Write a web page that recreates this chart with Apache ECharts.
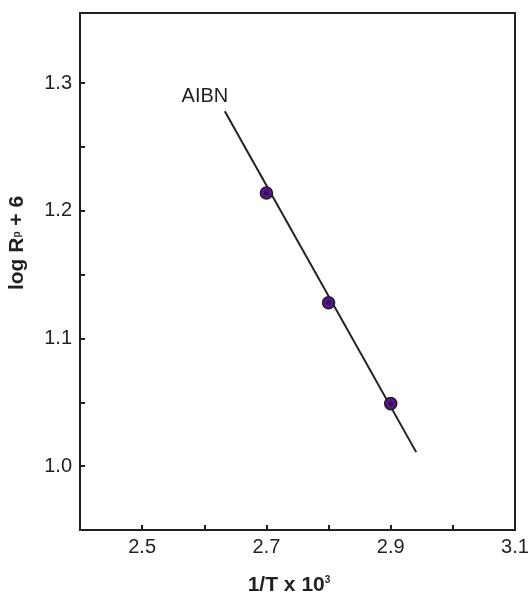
<!DOCTYPE html>
<html>
<head>
<meta charset="utf-8">
<script src="https://cdn.jsdelivr.net/npm/echarts@6/dist/echarts.min.js"></script>
<style>
  html, body { margin: 0; padding: 0; background: #ffffff; }
  #chart { width: 532px; height: 597px; }
</style>
</head>
<body>
<div id="chart"></div>
<script>
// ---- data ----
const xValues = [2.70, 2.80, 2.90];          // 1/T x 10^3
const yValues = [1.214, 1.128, 1.049];       // log Rp + 6
const fitX = [2.633, 2.941];                 // fitted line ends
const fitY = [1.278, 1.011];
const xTickLabels = ['2.5', '2.7', '2.9', '3.1'];
const yTickLabels = ['1.0', '1.1', '1.2', '1.3'];
const xTickValues = [2.4, 2.5, 2.6, 2.7, 2.8, 2.9, 3.0, 3.1];
const yTickValues = [0.95, 1.0, 1.05, 1.1, 1.15, 1.2, 1.25, 1.3];
const seriesLabel = 'AIBN';
const labelAt = [2.601, 1.2896];

const INK = '#231f20';
const FONT = '"Liberation Sans", Arial, Helvetica, sans-serif';

const chart = echarts.init(document.getElementById('chart'), null, { renderer: 'canvas' });
const option = {
  animation: false,
  backgroundColor: '#ffffff',
  grid: {
    left: 80, right: 17, top: 13, bottom: 67,
    show: true, borderColor: INK, borderWidth: 2, backgroundColor: 'transparent'
  },
  xAxis: {
    type: 'value', min: 2.4, max: 3.1, interval: 0.1,
    splitLine: { show: false },
    axisLine: { show: true, lineStyle: { color: INK, width: 2 } },
    axisTick: { show: true, inside: true, length: 5, customValues: xTickValues, lineStyle: { color: INK, width: 2 } },
    axisLabel: { customValues: xTickLabels.map(Number), formatter: v => v.toFixed(1),
      color: INK, fontSize: 20, fontFamily: FONT, margin: 7, hideOverlap: false }
  },
  yAxis: {
    type: 'value', min: 0.95, max: 1.355, interval: 0.05,
    splitLine: { show: false },
    axisLine: { show: true, lineStyle: { color: INK, width: 2 } },
    axisTick: { show: true, inside: true, length: 5, customValues: yTickValues, lineStyle: { color: INK, width: 2 } },
    axisLabel: { customValues: yTickLabels.map(Number), formatter: v => v.toFixed(1),
      color: INK, fontSize: 20, fontFamily: FONT, margin: 8 }
  },
  series: [
    {
      type: 'line', name: 'fit',
      data: fitX.map((x, i) => [x, fitY[i]]),
      showSymbol: false, symbol: 'none',
      lineStyle: { color: INK, width: 2 }, z: 2, silent: true
    },
    {
      type: 'scatter', name: seriesLabel,
      data: xValues.map((x, i) => [x, yValues[i]]),
      symbol: 'circle', symbolSize: 12,
      itemStyle: { color: '#5b119e', borderColor: INK, borderWidth: 1.6, opacity: 1 },
      z: 3, silent: true
    },
    {
      type: 'scatter', name: 'centre',
      data: xValues.map((x, i) => [x, yValues[i]]),
      symbol: 'circle', symbolSize: 4,
      itemStyle: { color: '#3a1060', borderColor: INK, borderWidth: 1, opacity: 1 },
      z: 4, silent: true
    }
  ]
};
chart.setOption(option);

const lp = chart.convertToPixel({ gridIndex: 0 }, labelAt);
chart.setOption({
  graphic: [
    {
      type: 'text', x: lp[0], y: lp[1],
      style: { text: seriesLabel, fill: INK, font: '20px ' + FONT, textAlign: 'center', textVerticalAlign: 'middle' }
    },
    {
      type: 'text', x: 289, y: 585,
      style: {
        text: '{a|1/T x 10}{b|3}',
        textAlign: 'center', textVerticalAlign: 'middle',
        rich: {
          a: { fontSize: 21, fontWeight: 'bold', fontFamily: FONT, fill: INK, color: INK },
          b: { fontSize: 10, fontWeight: 'bold', fontFamily: FONT, fill: INK, color: INK, padding: [0, 0, 10, 0] }
        }
      }
    },
    {
      type: 'text', x: 17, y: 243, rotation: Math.PI / 2,
      style: {
        text: '{a|log R}{b|p}{a| + 6}',
        textAlign: 'center', textVerticalAlign: 'middle',
        rich: {
          a: { fontSize: 21, fontWeight: 'bold', fontFamily: FONT, fill: INK, color: INK },
          b: { fontSize: 10, fontWeight: 'bold', fontFamily: FONT, fill: INK, color: INK, padding: [0, 0, 0, 0] }
        }
      }
    }
  ]
});
</script>
</body>
</html>
